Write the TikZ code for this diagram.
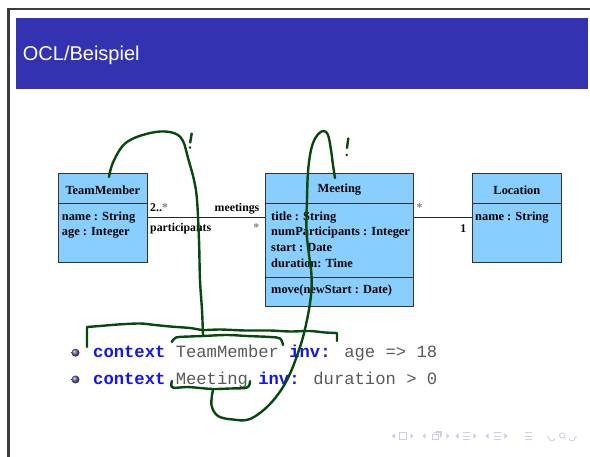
\documentclass[tikz,border=0pt]{standalone}
\usepackage{fontspec}
\setmainfont{Liberation Serif}
\newfontfamily\titlefont{Liberation Sans}
\newfontfamily\codefont{Liberation Mono}
\definecolor{headblue}{RGB}{51,51,178}
\definecolor{classfill}{RGB}{136,206,255}
\definecolor{ink}{RGB}{6,72,14}
\definecolor{kwblue}{RGB}{20,20,240}
\definecolor{codegray}{RGB}{90,90,90}
\definecolor{navc}{RGB}{205,205,235}
\definecolor{ballc}{RGB}{95,95,160}
\definecolor{framec}{RGB}{60,60,60}

\begin{document}
\begin{tikzpicture}[x=1pt,y=-1pt,
  compart/.style={draw=black!80, line width=0.8pt, fill=classfill, rectangle,
    inner sep=0pt, anchor=north west},
  cname/.style={font=\bfseries\fontsize{12.4}{14}\selectfont, inner sep=0pt},
  attr/.style={font=\bfseries\fontsize{12.4}{14}\selectfont, anchor=base west, inner sep=0pt},
  role/.style={font=\bfseries\fontsize{11.8}{13}\selectfont, inner sep=0pt},
  assoc/.style={draw=black!85, line width=0.8pt},
  handink/.style={draw=ink, line width=2.4pt, line cap=round, line join=round},
  code/.style={font=\codefont\fontsize{17.2}{20}\selectfont, text=codegray,
    anchor=base west, inner sep=0pt},
  bulletball/.style={circle, minimum size=8pt, inner sep=0pt, ball color=ballc},
  nav/.style={draw=navc, line width=0.8pt},
]
\useasboundingbox (0,0) rectangle (590,457);
\fill[white] (0,0) rectangle (590,457);

% slide frame and title bar
\draw[framec, line width=2.2pt] (8.5,457) -- (8.5,8.8) -- (590,8.8);
\fill[headblue] (16,17.7) rectangle (588,89);
\node[anchor=base west, text=white, inner sep=0pt,
  font=\titlefont\fontsize{20}{24}\selectfont] (title) at (22.7,61) {OCL/Beispiel};

% class TeamMember
\node[compart, minimum width=89pt, minimum height=30pt] (tmh) at (58,173) {};
\node[compart, minimum width=89pt, minimum height=59pt] (tmb) at (58,203) {};
\node[cname] (tmn) at ([yshift=-1.5pt]tmh.center) {TeamMember};
\node[attr] (tma1) at (61.7,221) {name : String};
\node[attr] (tma2) at (61.7,236) {age : Integer};

% class Meeting
\node[compart, minimum width=148pt, minimum height=30pt] (mth) at (265,173) {};
\node[compart, minimum width=148pt, minimum height=74pt] (mta) at (265,203) {};
\node[compart, minimum width=148pt, minimum height=29pt] (mto) at (265,277) {};
\node[cname] (mtn) at ([yshift=-1.5pt]mth.center) {Meeting};
\node[attr] (mta1) at (271,221) {title : String};
\node[attr] (mta2) at (271,236) {numParticipants : Integer};
\node[attr] (mta3) at (271,252) {start : Date};
\node[attr] (mta4) at (271,268) {duration: Time};
\node[attr] (mto1) at (271,293.5) {move(newStart : Date)};

% class Location
\node[compart, minimum width=89pt, minimum height=30pt] (loh) at (472,173) {};
\node[compart, minimum width=89pt, minimum height=59pt] (lob) at (472,203) {};
\node[cname] (lon) at ([yshift=-1.5pt]loh.center) {Location};
\node[attr] (loa1) at (475,221) {name : String};

% associations
\draw[assoc] ([yshift=-14.3pt]tmb.north east) -- ([yshift=-14.3pt]mta.north west);
\draw[assoc] ([yshift=-14.3pt]mta.north east) -- ([yshift=-14.3pt]lob.north west);
\node[role, anchor=base west] (m1) at (150,212) {2..\textcolor{gray}{*}};
\node[role, anchor=base east] (r1) at (259.5,212) {meetings};
\node[role, anchor=base west] (r2) at (150,232) {participants};
\node[role, anchor=base east, text=gray] (m2) at (259.5,232) {*};
\node[role, anchor=base west, text=gray] (m3) at (416.5,212) {*};
\node[role, anchor=base east] (m4) at (466.5,232.5) {1};

% invariants
\node[bulletball] (b1) at (75.5,352.7) {};
\node[bulletball] (b2) at (75.5,379.5) {};
\node[code] (c1) at (93,357.7)
  {\textcolor{kwblue}{\bfseries context} TeamMember \textcolor{kwblue}{\bfseries inv:} age => 18};
\node[code] (c2) at (93,385)
  {\textcolor{kwblue}{\bfseries context} Meeting \textcolor{kwblue}{\bfseries inv:} duration > 0};

% handwritten annotations
\draw[handink] plot[smooth, tension=0.6] coordinates {
  (109,177) (112,165) (119,151) (127,142) (141,135.5) (160,131.5) (175,133.5)
  (183,141) (188,158) (194,180) (197,200) (199,240) (200,280) (202,310) (203,335)};
\draw[handink] (87,347) -- plot[smooth, tension=0.5] coordinates {
  (87,327) (100,326) (118,324.5) (140,323.5) (155,325) (170,326.5) (190,328)
  (203,330) (220,329.5) (245,330.5) (270,330.5) (290,331.5) (310,331) (325,332.5) (337,333)}
  -- (337,341);
\draw[handink] plot[smooth, tension=0.6] coordinates {
  (172,342) (176,337.5) (190,336.5) (203,336) (227,335) (247,336) (270,337) (280,338.5) (283,345)};
\draw[handink] plot[smooth, tension=0.6] coordinates {
  (172,381) (172.5,387.5) (187,387) (200,388) (213,389) (230,388.5) (247,387.5) (250,381)};
\draw[handink] plot[smooth, tension=0.6] coordinates {
  (213,390) (211.5,405) (218,416) (233,419.5) (250,419) (270,404) (287,380) (300,347)
  (307,320) (311,295) (311.5,275) (309,255) (306.5,230) (307,200) (308,172) (311,150)
  (316,137) (323,131) (328,135) (331,150) (333,165) (335,178)};
% exclamation marks
\draw[handink] (191.7,133.5) -- (190.2,142.5);
\fill[ink] (190,147.5) circle (1.4);
\draw[handink] (348.3,138.5) -- (347,148);
\fill[ink] (346.8,155) circle (1.4);

% navigation symbols
\foreach \x in {393.3,424,457,487}
  \fill[navc] (\x+1.6,433.4) -- (\x-1.6,436) -- (\x+1.6,438.6) -- cycle;
\foreach \x in {412,448,475,506}
  \fill[navc] (\x-1.6,433.4) -- (\x+1.6,436) -- (\x-1.6,438.6) -- cycle;
\draw[nav] (399.5,432.5) rectangle (406.5,439.5);
\draw[nav] (432.5,434) rectangle (438.5,439.5);
\draw[nav] (434,432.5) -- (440,432.5) -- (440,438);
\draw[nav] (435.5,431) -- (441.5,431) -- (441.5,436.5);
\foreach \x in {466,497,528} {
  \draw[nav] (\x-3.5,432.5) -- (\x+3.5,432.5);
  \draw[nav] (\x-3.5,436) -- (\x+3.5,436);
  \draw[nav] (\x-3.5,439.5) -- (\x+3.5,439.5);
}
\draw[nav] (549,438) arc (180:0:3) ;
\draw[nav] (549,438) -- (547.5,436.5);
\draw[nav] (562,435.5) circle (2.6);
\draw[nav] (563.8,437.4) -- (565.8,439.4);
\draw[nav] (575,438) arc (0:180:3);
\draw[nav] (575,438) -- (576.5,436.5);
\end{tikzpicture}
\end{document}
